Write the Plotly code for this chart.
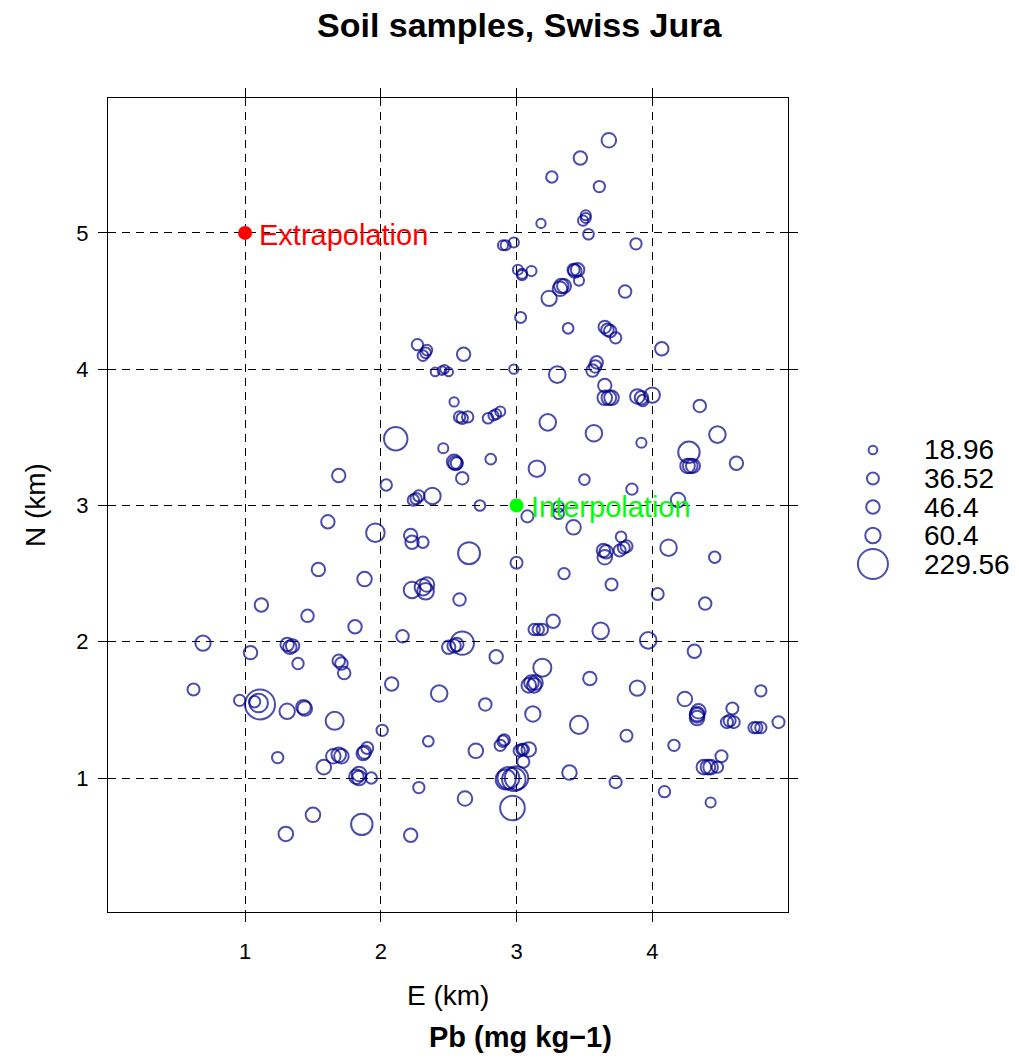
import numpy as np
import plotly.graph_objects as go

# ---------------- data (km, mg/kg) ----------------
E = [3.68,3.47,3.26,3.61,3.51,3.51,3.49,3.18,3.53,2.90,2.92,2.98,3.88,3.01,3.04,3.04,3.11,3.42,3.43,3.45,3.46,3.33,3.32,3.35,3.24,3.80,3.03,
     3.38,2.27,2.34,2.33,2.31,2.61,2.40,2.45,2.47,2.50,2.98,3.30,2.54,2.58,2.60,2.64,2.79,2.83,2.85,2.88,2.11,3.23,2.46,2.54,2.55,2.56,2.81,3.15,2.60,2.04,3.50,
     3.65,3.67,3.69,3.73,4.07,3.59,3.58,3.56,3.65,3.65,3.68,3.70,3.89,3.92,3.93,4.00,4.35,3.57,3.92,4.48,4.27,4.26,4.28,4.30,4.62,
     1.69,1.61,1.96,1.54,1.88,
     2.24,2.26,2.28,2.38,2.73,3.08,3.31,3.31,3.42,2.22,2.23,2.31,2.65,3.00,3.35,2.23,2.31,2.33,2.34,2.58,2.16,2.50,2.54,2.56,2.60,2.85,3.13,3.16,3.19,3.27,
     3.85,4.19,3.77,3.64,3.66,3.65,3.76,3.79,3.81,4.12,4.46,3.70,4.04,4.39,3.62,3.97,4.31,
     1.12,1.46,1.81,0.69,1.04,1.31,1.33,1.35,1.39,1.69,1.71,1.73,0.62,0.96,1.07,1.11,1.10,1.31,1.43,1.44,1.66,2.01,
     3.19,3.09,3.11,3.13,3.14,2.08,2.43,2.77,3.12,3.46,2.35,2.70,2.88,2.90,2.91,3.02,3.04,3.05,3.09,3.05,2.92,2.94,2.98,3.00,3.39,2.28,2.62,2.97,2.22,
     3.54,3.89,4.24,4.80,3.81,4.34,4.33,4.33,4.33,4.59,4.55,4.57,4.60,4.75,4.77,4.80,4.93,4.16,4.51,4.38,4.41,4.43,4.48,3.73,4.09,4.43,
     1.24,1.58,1.65,1.69,1.71,1.87,1.88,1.90,1.84,1.82,1.84,1.93,1.50,1.30,1.86]

N = [5.68,5.55,5.41,5.34,5.13,5.11,5.09,5.07,4.99,4.91,4.91,4.93,4.92,4.73,4.70,4.69,4.72,4.73,4.72,4.73,4.65,4.61,4.59,4.61,4.52,4.57,4.38,
     4.30,4.18,4.14,4.12,4.10,4.11,3.98,3.99,4.00,3.98,4.00,3.96,3.76,3.65,3.64,3.65,3.64,3.66,3.67,3.69,3.49,3.61,3.42,3.32,3.31,3.31,3.34,3.27,3.20,3.15,3.19,
     4.31,4.29,4.28,4.23,4.15,4.05,4.02,3.99,3.88,3.79,3.79,3.79,3.80,3.79,3.77,3.81,3.73,3.53,3.46,3.52,3.39,3.29,3.29,3.29,3.31,
     3.22,2.88,2.80,2.53,2.46,
     3.04,3.05,3.07,3.07,3.00,2.92,2.99,2.94,2.84,2.78,2.73,2.73,2.65,2.58,2.50,2.38,2.40,2.37,2.42,2.31,2.04,1.96,1.97,1.98,1.99,1.89,2.09,2.09,2.09,2.15,
     3.12,3.04,2.77,2.67,2.66,2.62,2.67,2.69,2.70,2.69,2.62,2.42,2.35,2.28,2.08,2.01,1.93,
     2.27,2.19,2.11,1.99,1.92,1.98,1.96,1.97,1.84,1.86,1.84,1.77,1.65,1.57,1.56,1.54,1.55,1.49,1.52,1.51,1.42,1.35,
     1.81,1.68,1.70,1.68,1.70,1.69,1.62,1.54,1.47,1.39,1.27,1.20,1.24,1.27,1.28,1.20,1.21,1.21,1.21,1.12,0.99,1.00,0.99,1.00,1.04,0.93,0.85,0.78,0.58,
     1.73,1.66,1.58,1.64,1.31,1.49,1.47,1.46,1.44,1.51,1.41,1.42,1.41,1.37,1.37,1.37,1.41,1.24,1.16,1.08,1.08,1.08,1.08,0.97,0.90,0.82,
     1.15,1.08,1.16,1.17,1.16,1.18,1.19,1.22,1.03,1.01,1.00,1.00,0.73,0.59,0.66]

Pb = [54,46,33,33,26,26,26,22,29,26,26,26,33,26,26,26,26,37,46,46,26,54,54,50,60,40,31,
      29,33,29,29,29,46,19,19,19,19,22,70,22,33,33,33,29,26,26,26,140,70,26,54,50,37,29,70,40,33,29,
      40,40,40,33,46,40,40,40,46,54,54,54,54,46,33,60,40,70,26,70,117,54,54,50,46,
      46,46,88,46,54,
      33,33,33,70,29,37,29,29,54,46,46,33,123,37,33,70,70,70,54,40,40,46,46,46,140,46,33,33,33,46,
      33,54,29,46,46,54,37,37,37,70,33,37,37,40,70,70,46,
      46,40,46,60,46,46,46,46,33,40,40,40,37,33,33,229.56,88,60,54,54,83,33,
      83,54,54,54,54,46,70,40,60,83,29,54,33,33,33,33,33,33,54,37,102,123,140,140,54,33,54,155,46,
      46,60,54,33,37,54,54,54,54,37,37,37,37,33,33,33,37,33,37,54,54,54,33,37,33,26,
      33,54,54,54,54,46,46,37,54,54,54,33,54,54,117]

key_values = [18.96, 36.52, 46.4, 60.4, 229.56]
key_labels = ["18.96", "36.52", "46.4", "60.4", "229.56"]

ref_E = [1, 3]
ref_N = [5, 3]
ref_labels = ["Extrapolation", "Interpolation"]
ref_colors = ["#FF0000", "#00FF00"]

x_ticks = [1, 2, 3, 4]
y_ticks = [1, 2, 3, 4, 5]

# ---------------- styling ----------------
FONT = "Liberation Sans, Arial, Helvetica, sans-serif"
BUBBLE = "#00008B"
MAXD = 30.0
vmax = max(key_values)

def diam(v):
    return MAXD * np.sqrt(np.asarray(v, dtype=float) / vmax)

fig = go.Figure()

fig.add_trace(go.Scatter(
    x=E, y=N, mode="markers",
    marker=dict(symbol="circle-open", size=diam(Pb), color=BUBBLE,
                line=dict(width=2, color=BUBBLE)),
    xaxis="x", yaxis="y", showlegend=False, hoverinfo="skip"))

fig.add_trace(go.Scatter(
    x=ref_E, y=ref_N, mode="markers",
    marker=dict(symbol="circle", size=14, color=ref_colors),
    xaxis="x", yaxis="y", showlegend=False, hoverinfo="skip"))

# key (bubble legend) on an overlay axis
fig.add_trace(go.Scatter(
    x=[0.184] * len(key_values), y=list(range(len(key_values))), mode="markers",
    marker=dict(symbol="circle-open", size=diam(key_values), color=BUBBLE,
                line=dict(width=2, color=BUBBLE)),
    xaxis="x2", yaxis="y2", showlegend=False, hoverinfo="skip"))

axis_common = dict(
    showline=True, linecolor="black", linewidth=1, mirror="ticks",
    ticks="outside", ticklen=9, tickcolor="black", tickwidth=1,
    showgrid=True, gridcolor="black", gridwidth=1, griddash="8px,6px",
    zeroline=False, tickfont=dict(family=FONT, size=22, color="black"),
)

annotations = [
    dict(text="<b>Soil samples, Swiss Jura</b>", x=0.4523, y=1.0897, xref="paper", yref="paper",
         xanchor="center", yanchor="middle", showarrow=False,
         font=dict(family=FONT, size=34, color="black")),
    dict(text="E (km)", x=0.3732, y=-0.102, xref="paper", yref="paper",
         xanchor="center", yanchor="middle", showarrow=False,
         font=dict(family=FONT, size=28, color="black")),
    dict(text="<b>Pb (mg kg\u22121)</b>", x=0.4523, y=-0.1536, xref="paper", yref="paper",
         xanchor="center", yanchor="middle", showarrow=False,
         font=dict(family=FONT, size=29, color="black")),
    dict(text="N (km)", x=-0.0801, y=0.5, xref="paper", yref="paper", textangle=-90,
         xanchor="center", yanchor="middle", showarrow=False,
         font=dict(family=FONT, size=28, color="black")),
]
for xe, yn, lab, col in zip(ref_E, ref_N, ref_labels, ref_colors):
    annotations.append(dict(text=lab, x=xe, y=yn, xref="x", yref="y", xanchor="left",
                            yanchor="middle", xshift=12, yshift=-2, showarrow=False,
                            font=dict(family=FONT, size=29, color=col)))
for i, lab in enumerate(key_labels):
    annotations.append(dict(text=lab, x=0.46, y=i, xref="x2", yref="y2", xanchor="left",
                            yanchor="middle", showarrow=False,
                            font=dict(family=FONT, size=28, color="black")))

fig.update_layout(
    width=1019, height=1058,
    margin=dict(l=108, r=0, t=98, b=146),
    paper_bgcolor="white", plot_bgcolor="white",
    font=dict(family=FONT, color="black"),
    xaxis=dict(domain=[0, 0.74643], range=[-0.01, 5.0], tickvals=x_ticks,
               ticklabelstandoff=11, anchor="y", **axis_common),
    yaxis=dict(domain=[0, 1], range=[0.017, 5.99], tickvals=y_ticks,
               ticklabelstandoff=5, anchor="x", **axis_common),
    xaxis2=dict(domain=[0.8035, 1], range=[0, 1], visible=False, anchor="y2"),
    yaxis2=dict(domain=[0, 1], range=[16.21, -12.35], visible=False, anchor="x2"),
    annotations=annotations,
    showlegend=False,
)

fig.write_html("out.html")
